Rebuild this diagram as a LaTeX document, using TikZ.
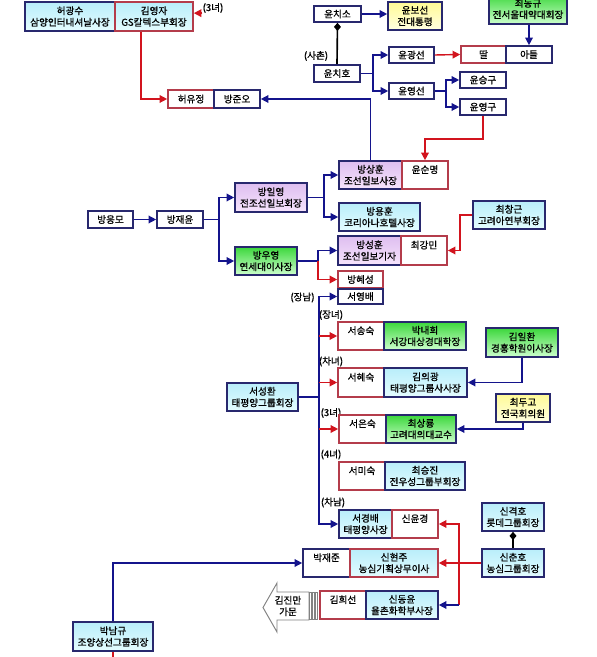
\documentclass[tikz,border=0pt]{standalone}
\usepackage{fontspec}
\setmainfont{Noto Sans CJK KR}[FakeBold=0.9]
\usetikzlibrary{arrows.meta}
\definecolor{bnavy}{RGB}{40,40,110}
\definecolor{bred}{RGB}{180,60,75}
\definecolor{lnavy}{RGB}{20,20,140}
\definecolor{lred}{RGB}{210,20,30}
\definecolor{cyantop}{RGB}{185,238,250}
\definecolor{cyanbot}{RGB}{228,252,255}
\definecolor{greentop}{RGB}{60,215,60}
\definecolor{greenbot}{RGB}{205,255,205}
\definecolor{purptop}{RGB}{222,190,240}
\definecolor{purpbot}{RGB}{246,228,252}
\definecolor{yeltop}{RGB}{255,250,150}
\definecolor{yelbot}{RGB}{255,255,225}
\definecolor{arrowgray}{RGB}{130,130,130}
\tikzset{
  sz/.style 2 args={minimum width=#1*0.03cm,minimum height=#2*0.03cm},
  person/.style={line width=1.4pt,align=center,inner sep=0pt,fill=white,font=\fontsize{8.2}{9.8}\selectfont},
  nb/.style={person,draw=bnavy},
  rb/.style={person,draw=bred},
  cyanbg/.style={top color=cyantop,bottom color=cyanbot},
  greenbg/.style={top color=greentop,bottom color=greenbot},
  purplebg/.style={top color=purptop,bottom color=purpbot},
  yellowbg/.style={top color=yeltop,bottom color=yelbot},
  tag/.style={inner sep=0pt,font=\fontsize{8.2}{9}\selectfont},
  navyline/.style={draw=lnavy,line width=1.2pt},
  redline/.style={draw=lred,line width=1.2pt},
  navyarrow/.style={navyline,-{Triangle[length=6.5pt,width=6.5pt]}},
  redarrow/.style={redline,-{Triangle[length=6.5pt,width=6.5pt]}},
  tie/.style={draw=black,line width=1.4pt,{Diamond[length=7pt,width=6pt]}-}
}
\begin{document}
\begin{tikzpicture}[x=0.03cm,y=-0.03cm]
\useasboundingbox[fill=white] (0,0) rectangle (596,657);
\node[nb,cyanbg,sz={90}{29}] (heo) at (70,16.5) {허광수\\삼양인터내셔날사장};
\node[rb,cyanbg,sz={78}{29}] (kimyj) at (154,16.5) {김영자\\GS칼텍스부회장};
\node[tag] (tagdaughter3) at (213,8) {(3녀)};
\node[rb,sz={46}{18}] (heoyj) at (191,99) {허유정};
\node[nb,sz={46}{18}] (bangjo) at (237,99) {방준오};
\node[nb,sz={47}{16}] (ychiso) at (337.5,14) {윤치소};
\node[nb,yellowbg,sz={54}{28}] (ybs) at (415,16) {윤보선\\전대통령};
\node[nb,greenbg,sz={78}{30}] (choidk) at (528,9) {최동규\\전서울대약대회장};
\node[tag] (tagcousin) at (316,56) {(사촌)};
\node[nb,sz={46}{17}] (ychiho) at (337,73.5) {윤치호};
\node[nb,sz={45}{16}] (ygs) at (411.5,55) {윤광선};
\node[nb,sz={45}{16}] (yys) at (411.5,91) {윤영선};
\node[rb,sz={45}{17}] (ydaughter) at (483.5,54.5) {딸};
\node[nb,sz={46}{17}] (yson) at (529,54.5) {아들};
\node[nb,sz={46}{16}] (ysg) at (483,80) {윤승구};
\node[nb,sz={46}{16}] (yyg) at (483,107) {윤영구};
\node[nb,purplebg,sz={63}{28}] (bangsh) at (370.5,175) {방상훈\\조선일보사장};
\node[rb,sz={46}{28}] (ysm) at (425,175) {윤순명\\\mbox{}};
\node[nb,cyanbg,sz={81}{28}] (bangyh) at (379.5,217) {방용훈\\코리아나호텔사장};
\node[nb,purplebg,sz={72}{29}] (bangiy) at (271,197.5) {방일영\\전조선일보회장};
\node[nb,sz={45}{17}] (bangem) at (110.5,219.5) {방응모};
\node[nb,sz={46}{17}] (bangjy) at (180,219.5) {방재윤};
\node[nb,greenbg,sz={62}{28}] (bangwy) at (266,261) {방우영\\연세대이사장};
\node[nb,purplebg,sz={63}{29}] (bangsn) at (369.5,250.5) {방성훈\\조선일보기자};
\node[rb,sz={46}{29}] (choikm) at (424,250.5) {최강민\\\mbox{}};
\node[nb,cyanbg,sz={72}{28}] (choicg) at (509,215) {최창근\\고려아연부회장};
\node[rb,sz={45}{17}] (banghs) at (360.5,279.5) {방혜성};
\node[nb,sz={45}{15}] (seoyb) at (360.5,296.5) {서영배};
\node[tag] (tagson1) at (302.5,297.5) {(장남)};
\node[nb,cyanbg,sz={71}{28}] (seoshw) at (262.5,397) {서성환\\태평양그룹회장};
\node[tag] (tagd1) at (331,315) {(장녀)};
\node[rb,sz={46}{28}] (seoss) at (361,336) {서송숙\\\mbox{}};
\node[nb,greenbg,sz={82}{28}] (parknh) at (425,336) {박내희\\서강대상경대학장};
\node[tag] (tagd2) at (331,361.5) {(차녀)};
\node[rb,sz={46}{29}] (seohs) at (361,382.5) {서혜숙\\\mbox{}};
\node[nb,cyanbg,sz={83}{29}] (kimuk) at (425.5,382.5) {김의광\\태평양그룹사사장};
\node[nb,greenbg,sz={72}{29}] (kimih) at (522,342.5) {김일환\\경흥학원이사장};
\node[nb,yellowbg,sz={54}{28}] (choidg) at (523,408) {최두고\\전국회의원};
\node[tag] (tagd3) at (331,413) {(3녀)};
\node[rb,sz={47}{28}] (seoes) at (362.5,429) {서은숙\\\mbox{}};
\node[nb,greenbg,sz={70}{28}] (choisr) at (421,429) {최상룡\\고려대의대교수};
\node[tag] (tagd4) at (331,454.5) {(4녀)};
\node[rb,sz={46}{28}] (seoms) at (362,476) {서미숙\\\mbox{}};
\node[nb,cyanbg,sz={80}{28}] (choisj) at (425,476) {최승진\\전우성그룹부회장};
\node[tag] (tagson2) at (333,502.5) {(차남)};
\node[nb,cyanbg,sz={53}{28}] (seokb) at (365.5,524) {서경배\\태평양사장};
\node[rb,sz={46}{28}] (shinyk) at (415,524) {신윤경\\\mbox{}};
\node[nb,cyanbg,sz={62}{28}] (shinkh) at (513,517) {신격호\\롯데그룹회장};
\node[nb,cyanbg,sz={62}{28}] (shinch) at (513,563) {신춘호\\농심그룹회장};
\node[nb,sz={47}{28}] (parkjj) at (326.5,563) {박재준\\\mbox{}};
\node[rb,cyanbg,sz={88}{28}] (shinhj) at (394,563) {신현주\\농심기획상무이사};
\node[rb,sz={46}{28}] (kimhs) at (343,605) {김희선\\\mbox{}};
\node[nb,cyanbg,sz={72}{28}] (shindy) at (402,605) {신동윤\\율촌화학부사장};
\node[nb,cyanbg,sz={80}{29}] (parknk) at (113,636.5) {박남규\\조양상선그룹회장};
\draw[arrowgray,fill=white,line width=0.8pt] (309,592) -- (277,592) -- (277,583) -- (263,607.5) -- (277,632) -- (277,620) -- (309,620) -- cycle;
\node[person,fill=none] (kimjm) at (288,606) {김진만\\가문};
\draw[arrowgray,line width=0.8pt] (309.5,592) rectangle (311.5,619) (312.5,592) rectangle (314.5,619) (315.5,592) rectangle (317.5,619);
\draw[redarrow] (tagdaughter3.south west) -- (kimyj.east |- tagdaughter3.south west);
\draw[redarrow] (kimyj.south west) ++(27,0) |- (heoyj.west);
\draw[navyarrow] (bangsh.north) |- (bangjo.east);
\draw[navyarrow] (ychiso.east) -- (ybs.west |- ychiso.east);
\draw[navyarrow] (choidk.south -| yson.north) -- (yson.north);
\draw[tie] (ychiso.south) -- (ychiho.north);
\draw[navyarrow] (ychiho.east) -- ++(12,0) |- (ygs.west);
\draw[navyarrow] (ychiho.east) -- ++(12,0) |- (yys.west);
\draw[redarrow] (ygs.east) -- (ydaughter.west);
\draw[navyarrow] (yys.east) -- ++(11,0) |- (ysg.west);
\draw[navyarrow] (yys.east) -- ++(11,0) |- (yyg.west);
\draw[redarrow] (yyg.south) -- ++(0,23) -| (ysm.north);
\draw[navyarrow] (bangem.east) -- (bangjy.west);
\draw[navyarrow] (bangjy.east) -- ++(15,0) |- (bangiy.west);
\draw[navyarrow] (bangjy.east) -- ++(15,0) |- (bangwy.west);
\draw[navyarrow] (bangiy.east) -- ++(16,0) |- (bangsh.west);
\draw[navyarrow] (bangiy.east) -- ++(16,0) |- (bangyh.west);
\draw[navyline] (bangwy.east) -- ++(20,0) coordinate (wyj);
\draw[navyarrow] (wyj) |- (bangsn.west);
\draw[redarrow] (wyj) |- (banghs.west);
\draw[redarrow] (choicg.west) -- ++(-12,0) |- (choikm.east);
\draw[navyline] (seoshw.east) -- ++(20,0) coordinate (spine);
\draw[navyarrow] (spine) |- (seoyb.west);
\draw[navyarrow] (spine) |- (seokb.west);
\draw[redarrow] (spine |- seoss.west) -- (seoss.west);
\draw[redarrow] (spine |- seohs.west) -- (seohs.west);
\draw[redarrow] (spine |- seoes.west) -- (seoes.west);
\draw[navyarrow] (kimih.south) |- (kimuk.east);
\draw[navyarrow] (choidg.south) |- (choisr.east);
\draw[tie] (shinkh.south) -- (shinch.north);
\draw[redarrow] (shinch.west) -- (shinhj.east);
\path (shinch.west) ++(-22,0) coordinate (shj);
\draw[redarrow] (shj) |- (shinyk.east);
\draw[redline] (shj) -- (shj |- shindy.east);
\draw[navyarrow] (shj |- shindy.east) -- (shindy.east);
\draw[navyarrow] (parknk.north) |- (parkjj.west);
\draw[redline] (parknk.south) -- ++(0,10);
\end{tikzpicture}
\end{document}
